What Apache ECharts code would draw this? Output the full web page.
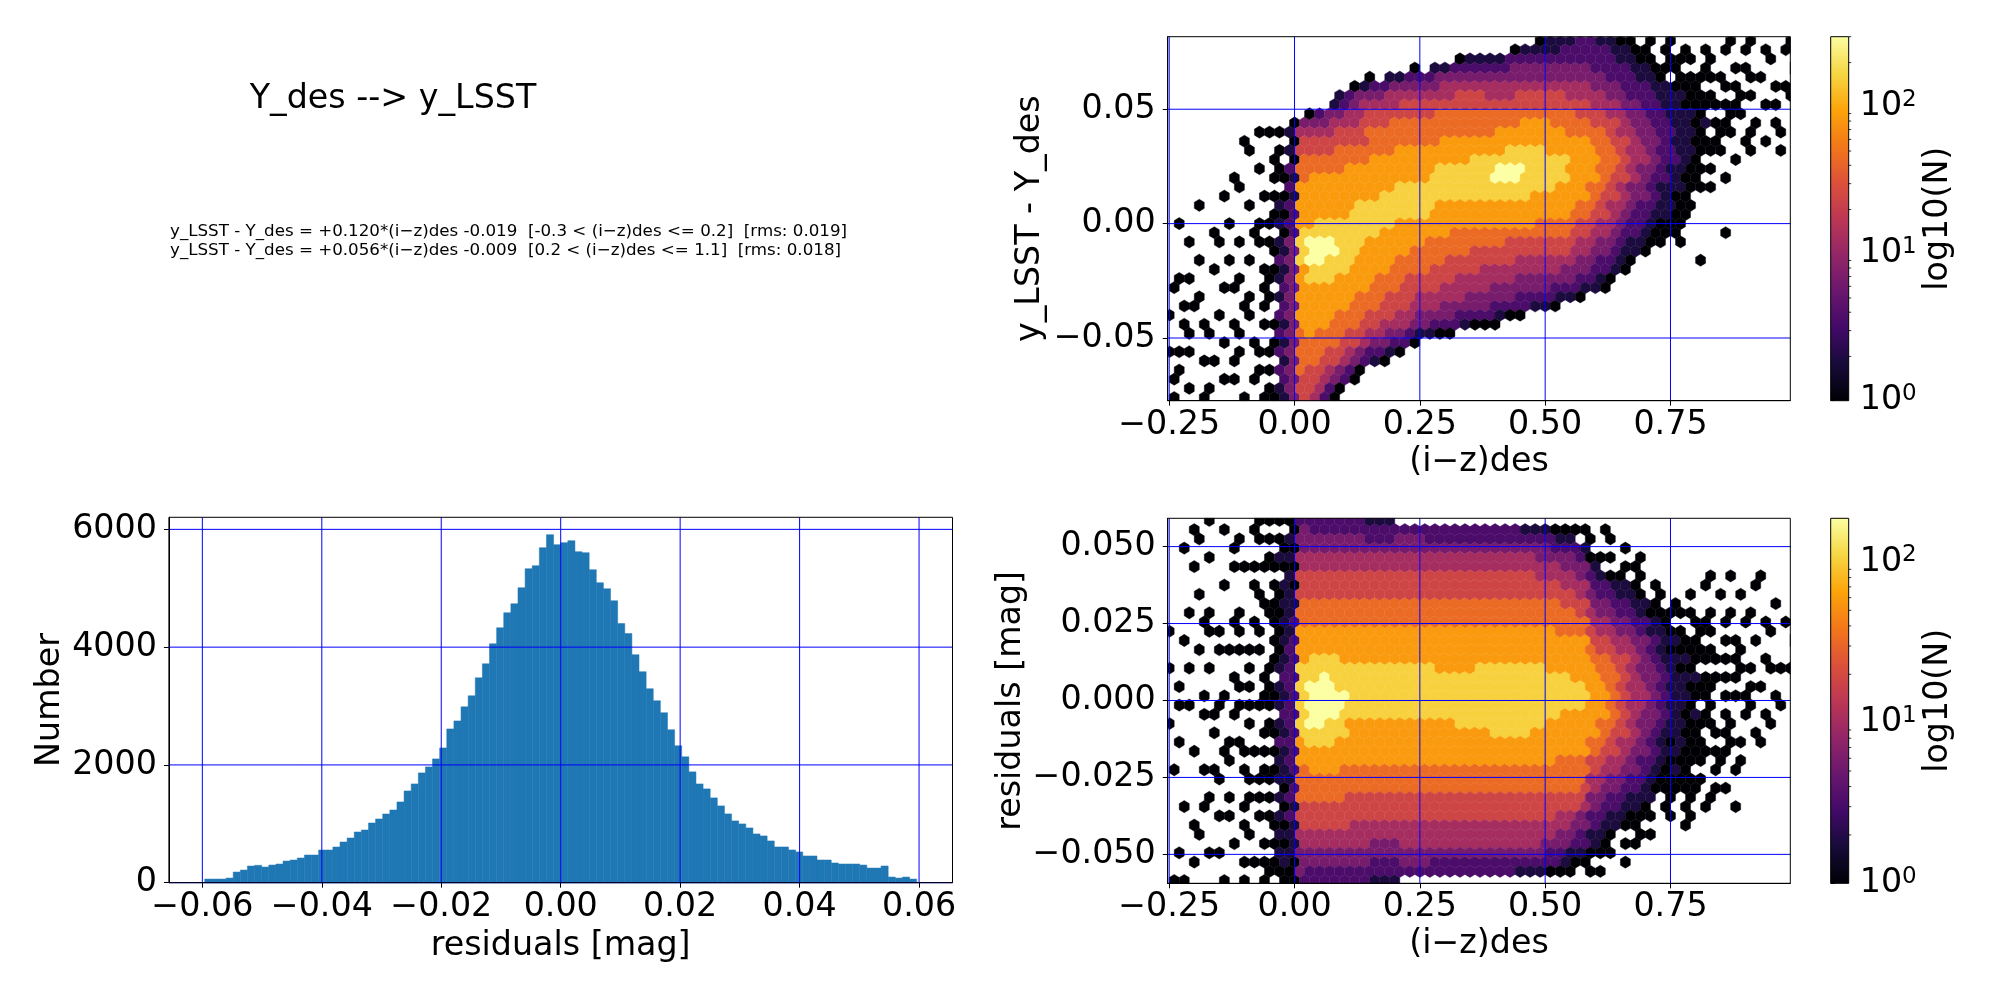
<!DOCTYPE html>
<html>
<head>
<meta charset="utf-8">
<title>Y_des --> y_LSST</title>
<script src="https://cdn.jsdelivr.net/npm/echarts@6/dist/echarts.min.js"></script>
<style>
  html, body { margin: 0; padding: 0; background: #fff; }
  #chart { width: 2000px; height: 1000px; }
</style>
</head>
<body>
<div id="chart"></div>
<script>
// ---- residual histogram (100 bins) ----
var histRange = [-0.0596, 0.0596];
var histCounts = [
  62, 62, 62, 79, 181, 215, 283, 295, 266, 300,
  317, 368, 385, 419, 470, 470, 555, 555, 606, 691,
  759, 861, 895, 1014, 1082, 1167, 1235, 1371, 1558, 1677,
  1864, 1966, 2102, 2289, 2612, 2748, 2986, 3173, 3479, 3717,
  4057, 4329, 4584, 4737, 5009, 5332, 5383, 5689, 5910, 5740,
  5774, 5808, 5621, 5604, 5315, 5094, 4992, 4788, 4400, 4230,
  3872, 3583, 3294, 3090, 2886, 2597, 2325, 2138, 1882, 1678,
  1593, 1440, 1304, 1168, 1049, 998, 930, 828, 794, 709,
  607, 607, 556, 522, 454, 454, 386, 386, 335, 318,
  318, 318, 300, 249, 249, 284, 96, 79, 96, 62
];
var histXTicks = [-0.06, -0.04, -0.02, 0, 0.02, 0.04, 0.06];
var histYTicks = [0, 2000, 4000, 6000];
var histXAxis = [-0.0656, 0.0656];
var histYAxis = [0, 6205];

// ---- hexbin panels ----
// each string is one (i-z)des column, top row first; '.' = empty,
// digit d = log10(N) of d * logStep
var hexXStart = -0.25, hexXStep = 0.02;
var hexXTicks = [-0.25, 0, 0.25, 0.5, 0.75];
var hexXAxis = [-0.253, 0.989];

var topYStart = 0.080, topYStep = -0.004, topLogStep = 0.275;
var topYTicks = [-0.05, 0, 0.05];
var topYAxis = [-0.0774, 0.0817];
var topCbMax = 300;
var topCols = [
  ".......... .......... .......0.. 0...0..0.0",
  ".......... .......... 0.....0..0 .0..0.0...",
  ".......... .......... ..0...0..0 ..0.0...0.",
  ".......... ........0. ....0...0. .0...0...0",
  ".......... .......... .0...0.... ..0..0..0.",
  ".......... .......0.. ..0....0.. 0..0...0..",
  ".......... .....0.... 0...0..0.. .0...0.0..",
  ".......... .0....0... ..0...0..0 ..0.0....0",
  ".......... ..0.....0. .0..0...0. 0..0...0..",
  ".......... 0...0..0.. 0.0..0.0.0 .0..0.0..0",
  ".......... 0..0.0.0.0 0.00.00.0. .0.00.0.00",
  ".......... 0.0.00.010 1011211212 2121212211",
  ".........0 1010212122 2233333333 3333333333",
  ".........3 4556667777 7888877777 7766666555",
  "........03 4556677777 7899988777 7776665554",
  "........23 4556677777 8899988777 7766655442",
  ".......134 4556677777 8899888777 7666554320",
  "......1234 5566677777 8888887777 666554320.",
  ".....02344 5566777778 8888877776 66554320..",
  ".....13445 5566777788 8887777766 6554320...",
  "....023455 6667777788 8877777666 554321....",
  ".....23455 6667777888 8777776665 544320....",
  "....134456 6667777888 8777766655 54321.....",
  "....134556 6677778888 7777666555 44320.....",
  "...0234556 6677778888 7776665554 4320......",
  "....234556 6677778888 7776665544 331.......",
  "...1234556 6677788887 7766655544 321.......",
  "...1344566 6777888877 7766655443 320.......",
  "...2344566 6777888877 7666555443 320.......",
  "..02345566 6777888877 7666554443 21........",
  "..12345566 6778888877 7665554433 20........",
  "..12345566 6778888877 7665544433 20........",
  "..12344566 6778898877 7665544332 20........",
  "..12344566 7778998877 7665544332 1.........",
  ".023344566 7788998877 7655544332 0.........",
  ".123345567 7788988877 7655443322 0.........",
  ".123345567 7788888777 7655443321 ..........",
  "0123345567 7788888777 6655443321 ..........",
  "1123345566 7778888777 6655443220 ..........",
  "1223345566 7778887777 665543321. ..........",
  "1223344566 6777777776 655443321. ..........",
  "2223344556 6777777766 554433210. ..........",
  "2222334455 6677776665 54433221.. ..........",
  "1222334455 6666666555 44332210.. ..........",
  "1122233445 5566655544 4332210... ..........",
  "0112223344 4555554443 322110.... ..........",
  "0011222333 4444443332 22110..... ..........",
  ".001122233 3344333322 2110...... ..........",
  "0.00112222 3333322221 100....... ..........",
  ".0.0011122 2222221111 000....... ..........",
  "0.00.01111 2122111010 00........ ..........",
  ".00.001011 1111101000 0.0....... ..........",
  "..0.000010 1010000.0. .......... ..........",
  ".0.00.0001 000.0.0... ....0..... ..........",
  "..0.0.00.0 .00.0.0... .......... ..........",
  ".0..00.0.0 0.0..0.... .0........ ..........",
  "0..0.0.00. 0..0...... .......... ..........",
  ".0.0..0.0. .0........ .......... ..........",
  "0...0.0..0 0.0....... .......... ..........",
  ".0..0..0.. .0........ .......... ..........",
  "..0..0.0.0 .......... .......... ..........",
  ".0...0.... 0.0....... .......... ..........",
  "0..0..0... .......... .......... .........."
];

var botYStart = 0.0585, botYStep = -0.003, botLogStep = 0.252;
var botYTicks = [-0.05, -0.025, 0, 0.025, 0.05];
var botYAxis = [-0.0594, 0.0592];
var botCbMax = 187;
var botCols = [
  ".......... ..0...0... ..0....0.. .........0",
  "...0...... ...0....0. 0...0..... .0....0..0",
  ".0...0.... 0.....0... 0....0.... ...0...0..",
  "..0.....0. .0..0....0 .0.....0.. .0..0.....",
  "0...0..... 0.0...0... .0.0...0.. 0.....0...",
  ".0.....0.. ..0.0....0 0....0..0. ..0...0..0",
  "...0.0.... .0..0..0.. .0..0.0... 0.0..0....",
  "..0..0.... 0.0.0...0. 0...00.0.. .0.0...0.0",
  ".0...0.0.. .0..0.0.0. 0.0..0..0. 0...0..0..",
  "0.0..0..00 ..0.0..0.0 0..0.0.00. 0.0..0.0.0",
  "0.0.00.0.0 00.0.00.00 0.00.0.00. 0.00.0.00.",
  "0.0010.101 0101011211 1211211110 1010101100",
  "0010101011 1212222222 2222222212 2121111000",
  "2333445556 6677778888 8888777666 6555443332",
  "2233445556 6677788899 9998877766 6555443322",
  "2233445556 6677788999 9998877766 6555443322",
  "2233445556 6677788899 9988877766 6555443322",
  "2233445556 6677778889 9888777666 6555443322",
  "2233445556 6677778888 8877777666 5554443322",
  "2233445556 6677778888 8877777666 5554443322",
  "1223445556 6677778888 8877777666 5554433221",
  "1223445556 6677778888 8877777666 5554433221",
  "1223445556 6677778888 8877777666 5554433221",
  ".233445556 6677778888 8877777666 555444332.",
  ".233445556 6677778888 8877777666 555444332.",
  ".233445556 6677778888 8877777666 555444332.",
  ".223445556 6677778888 8877777666 555444322.",
  ".223445556 6677777888 8877777666 555444322.",
  ".223445556 6677777888 8877777666 555444322.",
  ".223445556 6677777888 8887777666 555444322.",
  ".223445556 6677777888 8887777666 555444322.",
  ".223445556 6677778888 8887777666 555444322.",
  ".223445556 6677778888 8888777666 555444322.",
  ".223445556 6677778888 8888777666 555444322.",
  ".223445556 6677778888 8888777666 555444322.",
  ".123445556 6677778888 8888777666 555444321.",
  ".123445556 6677778888 8887777666 555444321.",
  ".123344556 6677778888 8887777666 555443321.",
  ".022344556 6677777888 8877777666 555443220.",
  ".012334455 6667777888 8777776666 554433210.",
  ".012334455 6667777788 8777776666 554332100.",
  ".0.1233445 5667777788 8777776665 54332210..",
  "..0.012233 4455667777 7777665544 3322110.0.",
  ".0..0.1223 3445566677 7766655443 3221100.0.",
  "..0.0.0122 3344556666 6665554433 22110.0...",
  "...0.00112 2334455555 5555444332 2110.0.0..",
  ".....0.011 2233444444 4444433322 1100.0....",
  "....0.0.01 1223333344 4333332221 100.0.....",
  ".......0.0 0112223333 3332222110 1.0.0.....",
  "........0. 0011112222 2221111000 .0........",
  ".........0 0.01011111 1111010100 0.0.......",
  ".......... 0.00010111 1010100000 .0.0......",
  "........0. 00.0000100 0100000.00 0.0.......",
  ".......0.. .00.00.000 .00.000.0. .0........",
  "......0... 0.0.00.00. 0.00.0.0.0 0.........",
  "........0. .0.0.0.0.0 .0.0.00..0 ..........",
  "......0... 0..0.0.0.0 ..0.0..0.. .0........",
  "........0. .0..0.0..0 .0..0.0... ..........",
  ".......0.. 0..0..0.0. 0..0...... ..........",
  "......0... .0...0..0. .0..0..... ..........",
  ".........0 ..0...0..0 ..0....... ..........",
  ".......... .0....0... 0......... ..........",
  ".......... ...0..0... .......... .........."
];

var cbMajor = [1, 10, 100];
var cbMinorTop = [2, 3, 4, 5, 6, 7, 8, 9, 20, 30, 40, 50, 60, 70, 80, 90, 200, 300];
var cbMinorBot = [2, 3, 4, 5, 6, 7, 8, 9, 20, 30, 40, 50, 60, 70, 80, 90];

var fitLines = [
  'y_LSST - Y_des = +0.120*(i\u2212z)des -0.019  [-0.3 < (i\u2212z)des <= 0.2]  [rms: 0.019]',
  'y_LSST - Y_des = +0.056*(i\u2212z)des -0.009  [0.2 < (i\u2212z)des <= 1.1]  [rms: 0.018]'
];

// matplotlib inferno
var inferno = ['#000004', '#160b39', '#420a68', '#6a176e', '#932667', '#bc3754',
               '#dd513a', '#f37819', '#fca50a', '#f6d746', '#fcffa4'];

var FONT = 'DejaVu Sans';
var BIG = 33.3;

function hexToRgb(h) {
  return [parseInt(h.substr(1, 2), 16), parseInt(h.substr(3, 2), 16), parseInt(h.substr(5, 2), 16)];
}
function cmap(t) {
  t = Math.max(0, Math.min(1, t));
  var p = t * (inferno.length - 1);
  var i = Math.min(inferno.length - 2, Math.floor(p));
  var f = p - i;
  var a = hexToRgb(inferno[i]), b = hexToRgb(inferno[i + 1]);
  return 'rgb(' + Math.round(a[0] + (b[0] - a[0]) * f) + ',' +
    Math.round(a[1] + (b[1] - a[1]) * f) + ',' + Math.round(a[2] + (b[2] - a[2]) * f) + ')';
}

function fmt(dec) {
  return function (v) {
    var s = Math.abs(v).toFixed(dec);
    return (v < -1e-12 ? '\u2212' : '') + s;
  };
}

// histogram bars: [lo, hi, count]
var histData = [];
var binW = (histRange[1] - histRange[0]) / histCounts.length;
histCounts.forEach(function (n, k) {
  histData.push([histRange[0] + k * binW, histRange[0] + (k + 1) * binW, n]);
});

function hexItems(cols, yStart, yStep, logStep) {
  var items = [];
  cols.forEach(function (col, i) {
    col = col.replace(/ /g, '');
    for (var j = 0; j < col.length; j++) {
      var c = col.charAt(j);
      if (c === '.') continue;
      var x = hexXStart + hexXStep * i + (j % 2 ? hexXStep / 2 : 0);
      var y = yStart + yStep * j;
      items.push([x, y, Math.pow(10, (+c) * logStep)]);
    }
  });
  return items;
}

function hexSeries(idx, cols, yStart, yStep, logStep, cbMax) {
  var lmax = Math.log10(cbMax);
  return {
    type: 'custom', xAxisIndex: idx, yAxisIndex: idx, z: 2, silent: true,
    data: hexItems(cols, yStart, yStep, logStep),
    renderItem: function (params, api) {
      var c = api.coord([api.value(0), api.value(1)]);
      var s = api.size([hexXStep, Math.abs(yStep)]);
      var w = s[0] / 2, h = s[1] / 1.5;
      var pts = [
        [c[0], c[1] - h], [c[0] + w, c[1] - h / 2], [c[0] + w, c[1] + h / 2],
        [c[0], c[1] + h], [c[0] - w, c[1] + h / 2], [c[0] - w, c[1] - h / 2]
      ];
      var cs = params.coordSys;
      pts = echarts.graphic.clipPointsByRect(pts, { x: cs.x, y: cs.y, width: cs.width, height: cs.height });
      var col = cmap(Math.log10(api.value(2)) / lmax);
      return { type: 'polygon', shape: { points: pts }, style: { fill: col, stroke: col, lineWidth: 0.4 } };
    }
  };
}

function gridLineSeries(idx, xTicks, yTicks, xRange, yRange) {
  var data = [];
  xTicks.forEach(function (v) { data.push([v, yRange[0], 0]); });
  yTicks.forEach(function (v) { data.push([xRange[0], v, 1]); });
  data.push([xRange[0], yRange[0], 2]);
  return {
    type: 'custom', xAxisIndex: idx, yAxisIndex: idx, z: 5, silent: true, data: data,
    renderItem: function (params, api) {
      var cs = params.coordSys;
      var kind = api.value(2);
      var p = api.coord([api.value(0), api.value(1)]);
      if (kind === 2) {
        return { type: 'rect', shape: { x: cs.x, y: cs.y, width: cs.width, height: cs.height },
                 style: { fill: 'none', stroke: '#000', lineWidth: 1 } };
      }
      if (kind === 0) {
        return { type: 'line', shape: { x1: p[0], y1: cs.y, x2: p[0], y2: cs.y + cs.height },
                 style: { stroke: '#0000ff', lineWidth: 1 } };
      }
      return { type: 'line', shape: { x1: cs.x, y1: p[1], x2: cs.x + cs.width, y2: p[1] },
               style: { stroke: '#0000ff', lineWidth: 1 } };
    }
  };
}

function colorbarSeries(idx, minor) {
  var stops = inferno.map(function (c, i) { return { offset: i / (inferno.length - 1), color: c }; });
  return [{
    type: 'custom', xAxisIndex: idx, yAxisIndex: idx, z: 2, silent: true, data: [[0, 0]],
    renderItem: function (params) {
      var cs = params.coordSys;
      return { type: 'rect', shape: { x: cs.x, y: cs.y, width: cs.width, height: cs.height },
               style: { fill: new echarts.graphic.LinearGradient(0, 1, 0, 0, stops), stroke: '#000', lineWidth: 1 } };
    }
  }, {
    type: 'custom', xAxisIndex: idx, yAxisIndex: idx, z: 3, silent: true,
    data: minor.map(function (v) { return [1, Math.log10(v)]; }),
    renderItem: function (params, api) {
      var cs = params.coordSys;
      var p = api.coord([1, api.value(1)]);
      return { type: 'line', shape: { x1: cs.x + cs.width, y1: p[1], x2: cs.x + cs.width + 2.5, y2: p[1] },
               style: { stroke: '#000', lineWidth: 0.8 } };
    }
  }];
}

function valueAxis(idx, range, ticks, formatter, margin, name, gap, extra) {
  var ax = {
    type: 'value', gridIndex: idx, min: range[0], max: range[1],
    axisLine: { show: true, onZero: false, lineStyle: { color: '#000', width: 1 } },
    axisTick: { show: true, inside: false, length: 5, customValues: ticks, lineStyle: { color: '#000', width: 1 } },
    axisLabel: { show: true, customValues: ticks, formatter: formatter, margin: margin,
                 fontSize: BIG, fontFamily: FONT, color: '#000' },
    splitLine: { show: false },
    name: name, nameLocation: 'middle', nameGap: gap,
    nameTextStyle: { fontSize: BIG, fontFamily: FONT, color: '#000' }
  };
  if (extra) for (var k in extra) ax[k] = extra[k];
  return ax;
}

function cbAxis(idx, cbMax, gap) {
  var majors = cbMajor.map(function (v) { return Math.log10(v); });
  return {
    type: 'value', gridIndex: idx, min: 0, max: Math.log10(cbMax), position: 'right',
    axisLine: { show: false },
    axisTick: { show: true, inside: false, length: 4, customValues: majors, lineStyle: { color: '#000', width: 1 } },
    axisLabel: {
      show: true, customValues: majors, margin: 11, color: '#000',
      formatter: function (v) { return '{b|10}{s|' + Math.round(v) + '}'; },
      rich: {
        b: { fontSize: BIG, fontFamily: FONT, color: '#000', lineHeight: 36 },
        s: { fontSize: 23, fontFamily: FONT, color: '#000', verticalAlign: 'top', lineHeight: 24 }
      }
    },
    splitLine: { show: false },
    name: 'log10(N)', nameLocation: 'middle', nameGap: gap, nameRotate: 90,
    nameTextStyle: { fontSize: BIG, fontFamily: FONT, color: '#000' }
  };
}

var chart = echarts.init(document.getElementById('chart'));

var option = {
  animation: false,
  backgroundColor: '#fff',
  textStyle: { fontFamily: FONT },
  graphic: [
    { type: 'text', x: 393, y: 99,
      style: { text: 'Y_des --> y_LSST', fontSize: BIG, fontFamily: FONT, fill: '#000',
               textAlign: 'center', align: 'center', textVerticalAlign: 'middle', verticalAlign: 'middle' } },
    { type: 'text', x: 170, y: 241,
      style: { text: fitLines.join('\n'), fontSize: 16.7, lineHeight: 19.5, fontFamily: FONT, fill: '#000',
               textAlign: 'left', align: 'left', textVerticalAlign: 'middle', verticalAlign: 'middle' } }
  ],
  grid: [
    { left: 168.9, top: 517.3, width: 783.6, height: 365.4, outerBoundsMode: 'none' },
    { left: 1167.7, top: 36.7, width: 622.6, height: 364, outerBoundsMode: 'none' },
    { left: 1167.7, top: 518.3, width: 622.6, height: 365, outerBoundsMode: 'none' },
    { left: 1830.7, top: 36.7, width: 18, height: 364, outerBoundsMode: 'none' },
    { left: 1830.7, top: 518.3, width: 18, height: 365, outerBoundsMode: 'none' }
  ],
  xAxis: [
    valueAxis(0, histXAxis, histXTicks, fmt(2), 8, 'residuals [mag]', 47),
    valueAxis(1, hexXAxis, hexXTicks, fmt(2), 8, '(i\u2212z)des', 45),
    valueAxis(2, hexXAxis, hexXTicks, fmt(2), 8, '(i\u2212z)des', 45),
    { type: 'value', gridIndex: 3, min: 0, max: 1, show: false },
    { type: 'value', gridIndex: 4, min: 0, max: 1, show: false }
  ],
  yAxis: [
    valueAxis(0, histYAxis, histYTicks, fmt(0), 12, 'Number', 102, { nameRotate: 90 }),
    valueAxis(1, topYAxis, topYTicks, fmt(2), 12, 'y_LSST - Y_des', 121, { nameRotate: 90 }),
    valueAxis(2, botYAxis, botYTicks, fmt(3), 12, 'residuals [mag]', 140, { nameRotate: 90 }),
    cbAxis(3, topCbMax, 73),
    cbAxis(4, botCbMax, 73)
  ],
  series: [
    {
      type: 'custom', xAxisIndex: 0, yAxisIndex: 0, z: 2, silent: true, data: histData,
      renderItem: function (params, api) {
        var p0 = api.coord([api.value(0), 0]);
        var p1 = api.coord([api.value(1), api.value(2)]);
        return { type: 'rect', shape: { x: p0[0], y: p1[1], width: p1[0] - p0[0], height: p0[1] - p1[1] },
                 style: { fill: '#1f77b4', stroke: '#1f77b4', lineWidth: 0.5 } };
      }
    },
    gridLineSeries(0, histXTicks, histYTicks, histXAxis, histYAxis),
    hexSeries(1, topCols, topYStart, topYStep, topLogStep, topCbMax),
    gridLineSeries(1, hexXTicks, topYTicks, hexXAxis, topYAxis),
    hexSeries(2, botCols, botYStart, botYStep, botLogStep, botCbMax),
    gridLineSeries(2, hexXTicks, botYTicks, hexXAxis, botYAxis)
  ].concat(colorbarSeries(3, cbMinorTop), colorbarSeries(4, cbMinorBot))
};

chart.setOption(option);
</script>
</body>
</html>
